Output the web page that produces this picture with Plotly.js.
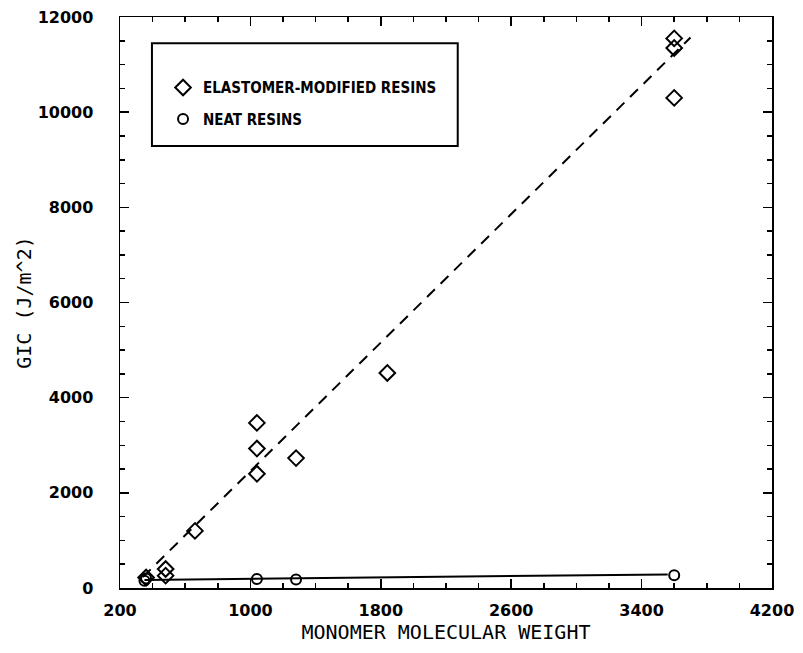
<!DOCTYPE html>
<html>
<head>
<meta charset="utf-8">
<script src="https://cdn.plot.ly/plotly-3.0.1.min.js"></script>
<style>
  html, body { margin: 0; padding: 0; background: #fff; }
  #chart { width: 803px; height: 653px; }
</style>
</head>
<body>
<div id="chart"></div>
<script>
// Elastomer-modified resins (diamonds)
const elastomerMW  = [360, 480, 480, 660, 1040, 1040, 1040, 1280, 1840, 3600, 3600, 3600];
const elastomerGIC = [220, 400, 260, 1200, 3470, 2930, 2400, 2730, 4520, 11550, 11350, 10300];
// Neat resins (circles)
const neatMW  = [350, 360, 1040, 1280, 3600];
const neatGIC = [150, 200, 190, 180, 270];
// Fit lines
const elastomerFitMW  = [340, 3700];
const elastomerFitGIC = [230, 11570];
const neatFitMW  = [350, 3560];
const neatFitGIC = [170, 285];
// Tick labels
const xTickVals = [200, 1000, 1800, 2600, 3400, 4200];
const xTickText = ['200', '1000', '1800', '2600', '3400', '4200'];
const yTickVals = [0, 2000, 4000, 6000, 8000, 10000, 12000];
const yTickText = ['0', '2000', '4000', '6000', '8000', '10000', '12000'];

const traces = [
  {
    x: elastomerFitMW, y: elastomerFitGIC, mode: 'lines', showlegend: false,
    line: {color: '#000', width: 2, dash: '11px,8px'}, hoverinfo: 'skip'
  },
  {
    x: neatFitMW, y: neatFitGIC, mode: 'lines', showlegend: false,
    line: {color: '#000', width: 2}, hoverinfo: 'skip'
  },
  {
    x: elastomerMW, y: elastomerGIC, mode: 'markers', name: 'ELASTOMER-MODIFIED RESINS',
    legendgroup: 'a',
    marker: {symbol: 'diamond-open', size: 12, color: '#000', line: {width: 2, color: '#000'}}
  },
  {
    x: neatMW, y: neatGIC, mode: 'markers', name: 'NEAT RESINS',
    legendgroup: 'b',
    marker: {symbol: 'circle-open', size: 10, color: '#000', line: {width: 2, color: '#000'}}
  }
];

const tickFont = {family: 'DejaVu Sans, sans-serif', size: 16, color: '#000', weight: 'bold'};
const titleFont = {family: 'DejaVu Sans Mono, monospace', size: 20, color: '#000'};

const layout = {
  width: 803, height: 653,
  margin: {l: 120, r: 31, t: 17, b: 65},
  paper_bgcolor: '#fff', plot_bgcolor: '#fff',
  showlegend: true,
  legend: {
    x: 0.066, y: 0.905, xanchor: 'left', yanchor: 'top',
    bgcolor: 'rgba(0,0,0,0)', borderwidth: 0,
    font: {family: 'DejaVu Sans Condensed, sans-serif', size: 15, color: '#000', weight: 'bold'},
    traceorder: 'grouped', tracegroupgap: 9, itemwidth: 30
  },
  xaxis: {
    range: [200, 4200], tickmode: 'array', tickvals: xTickVals, ticktext: xTickText,
    ticks: 'inside', ticklen: 9, tickwidth: 1.5, tickcolor: '#000',
    minor: {dtick: 200, ticks: 'inside', ticklen: 5, tickwidth: 1.5, tickcolor: '#000'},
    showline: true, linecolor: '#000', linewidth: 1.5, mirror: 'allticks',
    showgrid: false, zeroline: false,
    tickfont: tickFont, ticklabelstandoff: 7,
    title: {text: 'MONOMER MOLECULAR WEIGHT', font: titleFont, standoff: 4}
  },
  yaxis: {
    range: [0, 12000], tickmode: 'array', tickvals: yTickVals, ticktext: yTickText,
    ticks: 'inside', ticklen: 9, tickwidth: 1.5, tickcolor: '#000',
    minor: {dtick: 500, ticks: 'inside', ticklen: 5, tickwidth: 1.5, tickcolor: '#000'},
    showline: true, linecolor: '#000', linewidth: 1.5, mirror: 'allticks',
    showgrid: false, zeroline: false,
    tickfont: tickFont, ticklabelstandoff: 22,
    title: {text: 'GIC (J/m^2)', font: titleFont, standoff: 0}
  },
  shapes: [
    {type: 'rect', xref: 'paper', yref: 'paper', x0: 0.049, x1: 0.518, y0: 0.774, y1: 0.954,
     line: {color: '#000', width: 2}, fillcolor: 'rgba(0,0,0,0)'}
  ]
};

Plotly.newPlot('chart', traces, layout, {displayModeBar: false, staticPlot: true});
</script>
</body>
</html>
